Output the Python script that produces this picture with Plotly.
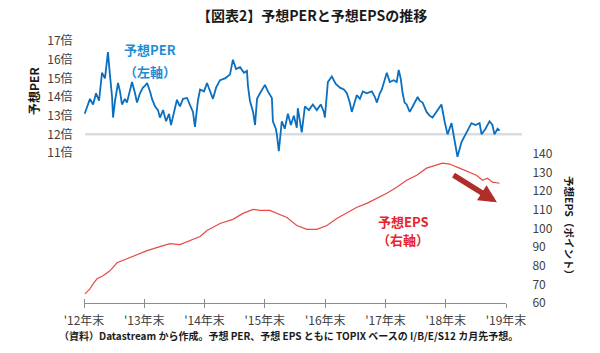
import plotly.graph_objects as go

# ---------------- data ----------------
per_dates = [
    "2013-01-04", "2013-01-18", "2013-02-05", "2013-02-24", "2013-03-14", "2013-04-01", "2013-04-19",
    "2013-05-07", "2013-05-25", "2013-06-06", "2013-06-19", "2013-06-25", "2013-07-07", "2013-07-25",
    "2013-08-06", "2013-08-18", "2013-09-05", "2013-09-17", "2013-10-06", "2013-10-18", "2013-11-05",
    "2013-11-17", "2013-12-05", "2013-12-23", "2014-01-04", "2014-01-17", "2014-02-04", "2014-02-16",
    "2014-03-06", "2014-03-24", "2014-04-05", "2014-04-24", "2014-05-12", "2014-05-30", "2014-06-11",
    "2014-06-23", "2014-07-17", "2014-08-04", "2014-08-23", "2014-09-16", "2014-10-04", "2014-10-22",
    "2014-11-03", "2014-11-21", "2014-12-04", "2014-12-28", "2015-01-15", "2015-02-02", "2015-02-20",
    "2015-03-11", "2015-04-04", "2015-05-04", "2015-06-03", "2015-06-21", "2015-07-10", "2015-08-03",
    "2015-08-27", "2015-09-14", "2015-09-20", "2015-10-02", "2015-10-21", "2015-11-02", "2015-11-14",
    "2015-12-02", "2016-01-01", "2016-01-19", "2016-02-12", "2016-02-18", "2016-03-07", "2016-03-13",
    "2016-03-25", "2016-04-12", "2016-04-30", "2016-05-19", "2016-06-06", "2016-06-24", "2016-07-12",
    "2016-07-18", "2016-07-30", "2016-08-11", "2016-08-30", "2016-09-23", "2016-10-17", "2016-11-10",
    "2016-12-04", "2016-12-23", "2016-12-29", "2017-01-16", "2017-02-09", "2017-03-05", "2017-03-30",
    "2017-04-23", "2017-05-11", "2017-05-29", "2017-06-10", "2017-06-28", "2017-07-10", "2017-07-29",
    "2017-08-16", "2017-09-09", "2017-10-09", "2017-10-28", "2017-11-09", "2017-11-27", "2017-12-09",
    "2018-01-08", "2018-01-26", "2018-02-19", "2018-03-09", "2018-03-21", "2018-04-02", "2018-04-14",
    "2018-04-26", "2018-05-08", "2018-05-27", "2018-06-20", "2018-07-14", "2018-07-26", "2018-08-13",
    "2018-09-06", "2018-09-24", "2018-10-12", "2018-11-05", "2018-12-05", "2018-12-24", "2019-01-11",
    "2019-02-04", "2019-02-22", "2019-03-12", "2019-04-06", "2019-05-06", "2019-06-05", "2019-06-29",
    "2019-07-24", "2019-08-05", "2019-08-29", "2019-09-22", "2019-10-10", "2019-10-22", "2019-11-10",
    "2019-11-22",
]
per_values = [
    13.1, 13.5, 13.9, 13.6, 14.2, 13.8, 15.3,
    15.0, 16.4, 15.2, 14.0, 12.9, 13.8, 14.75,
    14.3, 13.6, 13.9, 13.7, 14.3, 14.8, 14.2,
    13.7, 14.2, 14.5, 14.6, 14.75, 14.3, 13.9,
    13.5, 13.3, 12.9, 13.3, 12.7, 13.1, 12.5,
    12.9, 13.85, 13.5, 13.9, 13.95, 13.6, 13.2,
    12.4, 13.8, 14.4, 14.3, 14.75, 14.3, 13.9,
    14.5, 14.9, 15.0, 15.2, 16.0, 15.5, 15.6,
    15.3, 15.4, 14.6, 13.8, 13.2, 12.5, 13.9,
    14.2, 14.65, 14.3, 13.95, 12.7, 12.3, 12.0,
    11.1, 12.7, 12.3, 13.1, 12.5, 13.0, 12.35,
    13.4, 12.6, 12.1, 13.5, 13.3, 13.6, 13.3,
    13.6, 13.2, 12.9, 14.8, 15.1, 14.7, 14.5,
    14.4, 14.2, 13.7, 13.2, 13.7, 14.1, 13.9,
    14.3, 14.2, 14.3, 14.0, 13.7, 14.2, 14.4,
    15.3, 14.8, 14.9, 14.8, 15.45, 15.0, 14.2,
    13.7, 13.6, 13.2, 13.6, 14.0, 13.8, 13.7,
    13.2, 13.0, 12.9, 13.2, 13.6, 12.7, 12.0,
    12.6, 11.8, 10.8, 11.6, 12.1, 12.6, 12.5,
    12.6, 12.0, 12.3, 12.7, 12.5, 12.0, 12.3,
    12.2,
]

eps_dates = [
    "2013-01-06", "2013-02-05", "2013-02-24", "2013-03-20", "2013-04-25", "2013-06-06", "2013-07-19",
    "2013-09-17", "2013-11-17", "2014-01-17", "2014-04-05", "2014-06-05", "2014-08-04", "2014-10-04",
    "2014-12-04", "2015-01-15", "2015-04-04", "2015-06-21", "2015-08-21", "2015-10-21", "2015-12-02",
    "2016-01-31", "2016-03-13", "2016-05-13", "2016-07-12", "2016-09-11", "2016-11-10", "2017-01-10",
    "2017-03-11", "2017-05-11", "2017-07-11", "2017-09-09", "2017-11-09", "2018-01-08", "2018-03-09",
    "2018-05-08", "2018-07-08", "2018-09-06", "2018-12-11", "2019-01-23", "2019-03-24", "2019-05-24",
    "2019-07-05", "2019-08-11", "2019-09-10", "2019-10-10", "2019-11-22",
]
eps_values = [
    64.9, 67.6, 70.3, 73.0, 74.6, 77.3, 81.6,
    83.8, 85.9, 88.1, 90.3, 91.9, 91.4, 93.5,
    95.7, 98.9, 102.7, 104.9, 108.1, 110.3, 109.7,
    109.7, 108.1, 105.9, 101.6, 99.5, 99.5, 101.6,
    105.4, 108.6, 111.4, 113.5, 116.2, 118.9, 122.2,
    125.9, 128.6, 132.4, 135.1, 134.6, 132.4, 130.3,
    128.6, 125.9, 127.0, 124.9, 124.3,
]

x_tick_dates = ["2012-12-31", "2013-12-31", "2014-12-31", "2015-12-31",
                "2016-12-31", "2017-12-31", "2018-12-31", "2019-12-31"]
x_tick_minor = ["2013-01-01", "2014-01-01", "2015-01-01", "2016-01-01",
                "2017-01-01", "2018-01-01", "2019-01-01", "2020-01-01"]
x_tick_labels = ["'12年末", "'13年末", "'14年末", "'15年末",
                 "'16年末", "'17年末", "'18年末", "'19年末"]
per_ticks = [11, 12, 13, 14, 15, 16, 17]
per_tick_labels = ["11倍", "12倍", "13倍", "14倍", "15倍", "16倍", "17倍"]
eps_ticks = [60, 70, 80, 90, 100, 110, 120, 130, 140]
per_ref_level = 12
arrow_tail = ("2019-02-07", 129.2)
arrow_tip = ("2019-11-06", 114.1)

# ---------------- layout helpers ----------------
W, H = 600, 353
L, R, T, B = 84, 94, 35, 50
PW, PH = W - L - R, H - T - B


def pxx(x):
    return (x - L) / PW


def pxy(y):
    return (H - B - y) / PH


FONT = "Noto Sans CJK JP"
TICKC = "#404040"
AXC = "#8c8c8c"

fig = go.Figure()
fig.add_trace(go.Scatter(x=per_dates, y=per_values, mode="lines", yaxis="y",
                         line=dict(color="#0b6fc0", width=1.8), hoverinfo="skip",
                         showlegend=False))
fig.add_trace(go.Scatter(x=eps_dates, y=eps_values, mode="lines", yaxis="y2",
                         line=dict(color="#e84a45", width=1.2), hoverinfo="skip",
                         showlegend=False))

fig.add_shape(type="line", xref="paper", yref="y", x0=0.003, x1=pxx(522),
              y0=per_ref_level, y1=per_ref_level,
              line=dict(color="#d8dde3", width=2.5), layer="below")

annots = [
    dict(text="<b>【図表2】予想PERと予想EPSの推移</b>", x=pxx(312), y=pxy(15),
         font=dict(size=14, color="#1a1a1a")),
    dict(text="<b>予想PER</b>", x=pxx(150), y=pxy(49), font=dict(size=13, color="#1f8dd6")),
    dict(text="<b>（左軸）</b>", x=pxx(150), y=pxy(71), font=dict(size=13, color="#1f8dd6")),
    dict(text="<b>予想EPS</b>", x=pxx(403), y=pxy(221), font=dict(size=13, color="#e8262a")),
    dict(text="<b>（右軸）</b>", x=pxx(403), y=pxy(239), font=dict(size=13, color="#e8262a")),
    dict(text="<b>予想PER</b>", x=pxx(33), y=pxy(91), textangle=-90,
         font=dict(size=12, color="#1a1a1a")),
    dict(text="<b>予想EPS（ポイント）</b>", x=pxx(570), y=pxy(228), textangle=90,
         font=dict(size=10.5, color="#1a1a1a")),
    dict(text="<b>（資料）Datastream から作成。予想 PER、予想 EPS ともに TOPIX ベースの I/B/E/S12 カ月先予想。</b>",
         x=pxx(57), y=pxy(335), xanchor="left", font=dict(size=10, color="#1a1a1a")),
]
for a in annots:
    a.setdefault("xanchor", "center")
    a.update(xref="paper", yref="paper", yanchor="middle", showarrow=False)
    fig.add_annotation(**a)

fig.add_annotation(x=arrow_tip[0], y=arrow_tip[1], ax=arrow_tail[0], ay=arrow_tail[1],
                   xref="x", yref="y2", axref="x", ayref="y2", text="",
                   showarrow=True, arrowhead=2, arrowsize=0.65, arrowwidth=5.5,
                   arrowcolor="#b02e2a", standoff=0)

# PER range so that 17 sits at 41px and 11 at 153px
per_px = (153 - 41) / 6.0
per_lo = 11 - (H - B - 153) / per_px
per_hi = 17 + (41 - T) / per_px
# EPS range so that 60 sits on the axis and 140 at 154px
eps_px = (H - B - 154) / 80.0
eps_hi = 140 + (154 - T) / eps_px

fig.update_layout(
    width=W, height=H,
    margin=dict(l=L, r=R, t=T, b=B, pad=0),
    paper_bgcolor="white", plot_bgcolor="white",
    font=dict(family=FONT, color=TICKC),
    xaxis=dict(type="date", range=[x_tick_dates[0], x_tick_dates[-1]],
               tickmode="array", tickvals=x_tick_dates, ticktext=x_tick_labels,
               ticks="outside", ticklen=4, tickcolor=AXC, tickwidth=1,
               ticklabelstandoff=3,
               showline=True, linecolor=AXC, linewidth=1, showgrid=False, zeroline=False,
               tickfont=dict(size=12, color=TICKC, family=FONT),
               minor=dict(ticks="inside", ticklen=4, tickcolor=AXC, tickwidth=1,
                          tickmode="array", tickvals=x_tick_minor, showgrid=False)),
    yaxis=dict(range=[per_lo, per_hi], tickmode="array", tickvals=per_ticks,
               ticktext=per_tick_labels, ticks="outside", ticklen=8,
               tickcolor="rgba(0,0,0,0)", showgrid=False, zeroline=False, showline=False,
               tickfont=dict(size=12, color=TICKC, family=FONT)),
    yaxis2=dict(range=[60, eps_hi], overlaying="y", side="right", tickmode="array",
                tickvals=eps_ticks, ticks="outside", ticklen=23,
                tickcolor="rgba(0,0,0,0)", showgrid=False, zeroline=False, showline=False,
                tickfont=dict(size=12, color=TICKC, family=FONT)),
)

fig.write_html("out.html")
